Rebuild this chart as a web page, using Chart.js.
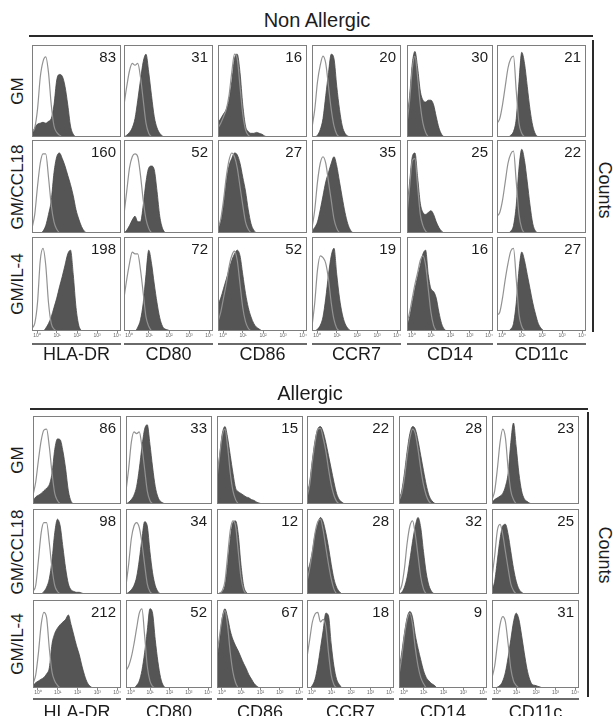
<!DOCTYPE html>
<html>
<head>
<meta charset="utf-8">
<script src="https://cdn.jsdelivr.net/npm/chart.js@4.4.1/dist/chart.umd.min.js"></script>
<style>
  body { margin: 0; background: #fff; font-family: "Liberation Sans", Arial, sans-serif; color: #1c1c1c; }
  #fig { position: relative; width: 613px; height: 716px; overflow: hidden; }
  .abs { position: absolute; }
  .abs canvas { display: block; }
  .mfi { position: absolute; right: 5px; top: 4px; font-size: 15px; line-height: 15px; }
  .ctr { position: absolute; white-space: nowrap; transform: translate(-50%, -50%); }
  .rot { position: absolute; white-space: nowrap; transform: translate(-50%, -50%) rotate(-90deg); font-size: 17px; }
  .cw { position: absolute; white-space: nowrap; transform: translate(-50%, -50%) rotate(90deg); font-size: 18px; }
  .rule { position: absolute; background: #2a2a2a; }
</style>
</head>
<body>
<div id="fig"></div>
<script>
const markers = ['HLA-DR', 'CD80', 'CD86', 'CCR7', 'CD14', 'CD11c'];
const conditions = ['GM', 'GM/CCL18', 'GM/IL-4'];
const decadeLabels = ['10⁰', '10¹', '10²', '10³', '10⁴'];

const naMFI = [[83, 31, 16, 20, 30, 21], [160, 52, 27, 35, 25, 22], [198, 72, 52, 19, 16, 27]];
const alMFI = [[86, 33, 15, 22, 28, 23], [98, 34, 12, 28, 32, 25], [212, 52, 67, 18, 9, 31]];

// histogram channels, % of max count; one list per marker
// Non Allergic
const naGMiso = [
  [5, 10, 30, 65, 82, 87, 70, 35, 12, 5, 2, 0],
  [35, 55, 72, 80, 78, 80, 65, 40, 15, 4, 0],
  [10, 15, 22, 30, 45, 70, 90, 85, 55, 25, 8, 2, 0],
  [10, 30, 60, 78, 88, 80, 55, 30, 12, 3, 0],
  [15, 40, 75, 88, 65, 35, 15, 5, 0],
  [15, 20, 35, 55, 75, 85, 88, 50, 15, 4, 0]
];
const naGMfill = [
  [3, 10, 14, 15, 16, 15, 17, 20, 35, 62, 68, 66, 55, 35, 12, 3, 0],
  [0, 2, 5, 10, 20, 40, 62, 82, 90, 70, 45, 22, 10, 4, 1, 0],
  [15, 20, 25, 30, 40, 60, 85, 90, 70, 35, 12, 6, 4, 4, 5, 4, 3, 1, 0],
  [0, 0, 2, 8, 20, 45, 70, 90, 85, 55, 30, 12, 4, 1, 0],
  [20, 45, 80, 93, 75, 50, 40, 38, 40, 40, 35, 22, 10, 3, 0],
  [0, 0, 0, 0, 0, 2, 6, 20, 60, 92, 80, 55, 30, 12, 3, 0]
];
const naCCLiso = [
  [5, 20, 50, 75, 85, 85, 60, 30, 12, 4, 0],
  [20, 45, 70, 82, 85, 82, 62, 35, 15, 5, 0],
  [5, 15, 35, 60, 78, 86, 82, 70, 50, 30, 12, 4, 0],
  [5, 25, 55, 75, 82, 75, 55, 35, 15, 5, 0],
  [20, 50, 78, 80, 50, 20, 8, 2, 0],
  [18, 22, 35, 55, 75, 85, 88, 55, 20, 5, 0]
];
const naCCLfill = [
  [0, 0, 0, 0, 2, 8, 20, 35, 65, 82, 86, 80, 72, 62, 52, 40, 25, 15, 7, 2, 0],
  [0, 3, 8, 14, 18, 12, 12, 30, 55, 70, 72, 68, 45, 18, 5, 0],
  [5, 12, 30, 55, 72, 80, 86, 84, 75, 60, 45, 25, 10, 3, 0],
  [2, 6, 12, 25, 40, 55, 65, 75, 82, 72, 55, 38, 22, 10, 3, 0],
  [25, 55, 82, 86, 60, 32, 22, 20, 22, 24, 20, 12, 6, 2, 0],
  [0, 0, 0, 0, 0, 2, 8, 30, 70, 90, 78, 55, 30, 10, 2, 0]
];
const naIL4iso = [
  [3, 8, 30, 75, 88, 70, 30, 8, 2, 0],
  [35, 55, 72, 84, 82, 82, 65, 40, 15, 5, 0],
  [10, 20, 35, 50, 68, 80, 85, 75, 50, 25, 10, 3, 0],
  [5, 30, 65, 80, 78, 72, 55, 30, 12, 3, 0],
  [8, 20, 35, 50, 62, 75, 80, 70, 45, 20, 6, 0],
  [17, 20, 35, 55, 72, 85, 88, 55, 18, 5, 0]
];
const naIL4fill = [
  [0, 0, 0, 0, 0, 3, 8, 15, 25, 35, 47, 58, 70, 82, 86, 60, 25, 6, 0],
  [0, 0, 0, 0, 0, 4, 12, 30, 60, 86, 72, 50, 30, 14, 5, 2, 1, 0],
  [28, 35, 45, 55, 65, 75, 82, 86, 80, 60, 40, 25, 15, 8, 4, 2, 0],
  [0, 0, 2, 6, 15, 35, 60, 80, 88, 60, 35, 18, 8, 3, 0],
  [5, 15, 30, 45, 58, 70, 82, 86, 60, 45, 42, 35, 20, 8, 2, 0],
  [0, 0, 0, 0, 0, 2, 8, 30, 65, 84, 75, 60, 45, 30, 18, 8, 3, 0]
];
// Allergic
const alGMiso = [
  [10, 25, 50, 72, 84, 85, 65, 35, 12, 4, 0],
  [15, 40, 70, 82, 80, 82, 65, 40, 15, 4, 0],
  [30, 55, 78, 85, 65, 35, 15, 5, 0],
  [8, 22, 48, 70, 85, 86, 75, 60, 40, 22, 10, 3, 0],
  [4, 12, 30, 55, 75, 85, 80, 62, 40, 22, 10, 3, 0],
  [5, 15, 40, 70, 85, 75, 40, 15, 5, 0]
];
const alGMfill = [
  [3, 8, 10, 12, 15, 18, 22, 35, 62, 74, 73, 60, 40, 15, 3, 0],
  [0, 2, 5, 10, 20, 40, 65, 85, 90, 68, 42, 20, 8, 3, 1, 0],
  [30, 55, 80, 88, 75, 55, 35, 18, 14, 12, 10, 8, 7, 5, 4, 2, 1, 0],
  [10, 25, 50, 72, 85, 88, 82, 70, 55, 40, 25, 12, 5, 2, 0],
  [5, 15, 35, 60, 80, 88, 85, 72, 55, 38, 22, 10, 4, 1, 0],
  [2, 5, 7, 9, 12, 20, 35, 70, 92, 65, 35, 15, 6, 3, 1, 0]
];
const alCCLiso = [
  [3, 10, 40, 72, 84, 84, 60, 30, 10, 3, 0],
  [10, 35, 65, 80, 84, 78, 60, 35, 12, 3, 0],
  [0, 1, 4, 15, 45, 75, 86, 80, 50, 20, 5, 0],
  [15, 30, 50, 72, 85, 88, 75, 55, 35, 18, 6, 0],
  [3, 10, 30, 60, 80, 86, 70, 45, 20, 6, 0],
  [20, 45, 75, 82, 70, 50, 30, 12, 4, 0]
];
const alCCLfill = [
  [0, 0, 0, 0, 3, 8, 18, 40, 72, 88, 80, 55, 30, 12, 5, 3, 2, 2, 1, 0],
  [0, 2, 5, 10, 20, 40, 65, 85, 80, 50, 25, 10, 3, 0],
  [0, 1, 3, 10, 35, 65, 84, 86, 70, 35, 10, 2, 0],
  [25, 35, 50, 70, 82, 90, 85, 72, 55, 35, 18, 8, 3, 0],
  [0, 2, 8, 20, 40, 62, 80, 90, 78, 50, 25, 10, 3, 0],
  [5, 15, 40, 65, 80, 82, 70, 50, 30, 15, 6, 2, 0]
];
const alIL4iso = [
  [5, 15, 40, 72, 86, 80, 45, 18, 8, 3, 0],
  [20, 25, 35, 50, 68, 85, 90, 60, 25, 8, 2, 0],
  [40, 60, 80, 88, 70, 40, 18, 6, 0],
  [35, 55, 75, 84, 86, 75, 78, 70, 40, 15, 4, 0],
  [15, 35, 60, 78, 85, 72, 45, 25, 12, 5, 0],
  [12, 25, 50, 72, 81, 75, 50, 22, 8, 3, 0]
];
const alIL4fill = [
  [3, 6, 8, 10, 12, 16, 23, 50, 62, 68, 72, 75, 78, 83, 72, 60, 48, 38, 25, 14, 6, 2, 0],
  [0, 0, 0, 0, 3, 8, 20, 40, 65, 90, 85, 55, 30, 12, 3, 0],
  [30, 55, 80, 90, 80, 65, 55, 48, 42, 35, 28, 22, 15, 10, 5, 2, 0],
  [0, 0, 3, 10, 25, 45, 65, 85, 82, 50, 25, 10, 4, 0],
  [20, 40, 62, 80, 87, 80, 60, 45, 32, 20, 12, 8, 5, 3, 0],
  [0, 0, 1, 3, 8, 18, 35, 55, 75, 85, 78, 60, 40, 22, 10, 4, 3, 2, 1, 0]
];

const groups = [
  {
    title: 'Non Allergic', titleX: 317, titleY: 20, ruleY: 35, ruleX: [29, 593],
    bracketX: 592, bracketY: [40, 332], countsY: 190,
    lefts: [32, 124, 218, 312, 407, 497], widths: [89, 89, 89, 89, 86, 89],
    tops: [45, 140, 237], heights: [92, 93, 93], underY: 343, labelY: 354,
    mfi: naMFI, iso: [naGMiso, naCCLiso, naIL4iso], fill: [naGMfill, naCCLfill, naIL4fill]
  },
  {
    title: 'Allergic', titleX: 310, titleY: 393, ruleY: 408, ruleX: [30, 588],
    bracketX: 587, bracketY: [412, 697], countsY: 555,
    lefts: [33, 126, 217, 307, 399, 492], widths: [88, 86, 86, 87, 88, 87],
    tops: [416, 509, 600], heights: [88, 85, 87], underY: 698, labelY: 712,
    mfi: alMFI, iso: [alGMiso, alCCLiso, alIL4iso], fill: [alGMfill, alCCLfill, alIL4fill]
  }
];

const fig = document.getElementById('fig');
const chan = a => a.map((v, i) => ({ x: -0.25 + i * 0.1375, y: v }));

const frame = {
  id: 'frame',
  afterDatasetsDraw(chart) {
    const { ctx, chartArea: a } = chart;
    ctx.save();
    ctx.strokeStyle = '#7e7e7e';
    ctx.lineWidth = 1;
    ctx.strokeRect(a.left + 0.5, a.top + 0.5, a.width - 1, a.height - 1);
    ctx.restore();
  }
};

function add(cls, text, x, y, extra) {
  const d = document.createElement('div');
  d.className = cls;
  d.textContent = text;
  d.style.left = x + 'px';
  d.style.top = y + 'px';
  if (extra) Object.assign(d.style, extra);
  fig.appendChild(d);
  return d;
}

function rule(x, y, w, h, color) {
  const d = add('rule', '', x, y, { width: w + 'px', height: h + 'px' });
  if (color) d.style.background = color;
}

function panel(g, r, c) {
  const last = r === conditions.length - 1;
  const w = g.widths[c], h = g.heights[r] + (last ? 9 : 0);
  const box = document.createElement('div');
  box.className = 'abs';
  box.style.left = g.lefts[c] + 'px';
  box.style.top = g.tops[r] + 'px';
  const cv = document.createElement('canvas');
  cv.width = w; cv.height = h;
  box.appendChild(cv);
  const m = document.createElement('div');
  m.className = 'mfi';
  m.textContent = g.mfi[r][c];
  box.appendChild(m);
  fig.appendChild(box);

  new Chart(cv, {
    type: 'line',
    data: {
      datasets: [
        { data: chan(g.iso[r][c]), borderColor: '#929292', borderWidth: 1.2, fill: false,
          pointRadius: 0, cubicInterpolationMode: 'monotone' },
        { data: chan(g.fill[r][c]), borderColor: '#474747', backgroundColor: '#555555', borderWidth: 0.8,
          fill: 'origin', pointRadius: 0, cubicInterpolationMode: 'monotone' }
      ]
    },
    options: {
      responsive: false, animation: false, events: [],
      layout: { padding: 0 },
      plugins: { legend: { display: false }, tooltip: { enabled: false } },
      scales: {
        x: {
          type: 'linear', min: -0.25, max: 4.2, display: last,
          afterBuildTicks: s => { s.ticks = decadeLabels.map((_, k) => ({ value: k })); },
          ticks: { callback: v => decadeLabels[v], font: { size: 5 }, color: '#666', padding: 0, maxRotation: 0, autoSkip: false },
          grid: { drawOnChartArea: false, tickLength: 2, color: '#888' },
          border: { display: false }
        },
        y: { display: false, min: 0, max: 100 }
      }
    },
    plugins: [frame]
  });
}

groups.forEach(g => {
  add('ctr', g.title, g.titleX, g.titleY, { fontSize: '20px' });
  rule(g.ruleX[0], g.ruleY, g.ruleX[1] - g.ruleX[0], 2);
  rule(g.bracketX, g.bracketY[0], 2, g.bracketY[1] - g.bracketY[0]);
  add('cw', 'Counts', 604, g.countsY);
  conditions.forEach((cond, r) => {
    add('rot', cond, 18, g.tops[r] + g.heights[r] / 2);
    markers.forEach((_, c) => panel(g, r, c));
  });
  markers.forEach((mk, c) => {
    rule(g.lefts[c], g.underY, g.widths[c], 2, '#6a6a6a');
    add('ctr', mk, g.lefts[c] + g.widths[c] / 2, g.labelY, { fontSize: '18px' });
  });
});
</script>
</body>
</html>
